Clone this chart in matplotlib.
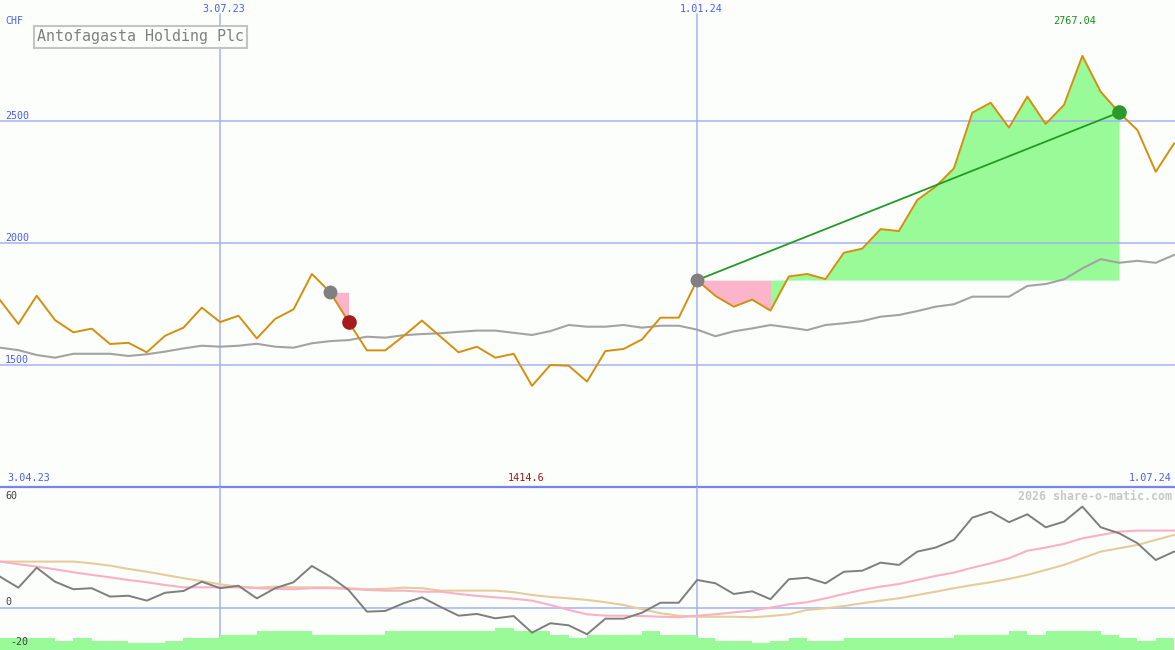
import numpy as np
import matplotlib.pyplot as plt

# weekly closes in CHF, one point per week (3.04.23 .. 1.07.24)
price = [1766, 1668, 1784, 1684, 1634, 1649, 1586, 1591, 1552, 1620,
         1653, 1735, 1676, 1702, 1609, 1689, 1728, 1873, 1798, 1677,
         1560, 1560, 1619, 1682, 1617, 1552, 1575, 1530, 1546, 1414.6,
         1500, 1497, 1432, 1557, 1566, 1605, 1694, 1694, 1848, 1783,
         1739, 1768, 1723, 1863, 1873, 1852, 1960, 1977, 2057, 2049,
         2176, 2231, 2306, 2534, 2575, 2473, 2600, 2488, 2566, 2767.04,
         2620, 2535, 2463, 2292, 2408]

# slow moving average (grey)
avg = [1571, 1561, 1541, 1530, 1546, 1546, 1546, 1537, 1544, 1555,
       1568, 1579, 1575, 1579, 1587, 1575, 1571, 1589, 1598, 1602,
       1616, 1612, 1622, 1627, 1630, 1636, 1641, 1641, 1632, 1623,
       1639, 1664, 1657, 1657, 1664, 1653, 1661, 1661, 1645, 1618,
       1638, 1650, 1664, 1654, 1643, 1664, 1671, 1680, 1698, 1705,
       1721, 1739, 1749, 1780, 1780, 1780, 1824, 1832, 1851, 1896,
       1934, 1919, 1927, 1919, 1951]

# lower panel: momentum and its two averages
mom = [17.9, 11.6, 23.0, 15.0, 10.7, 11.3, 6.5, 7.0, 4.2, 8.7,
       9.7, 15.0, 11.3, 12.7, 5.5, 11.3, 14.7, 24.0, 17.9, 10.3,
       -2.1, -1.7, 2.7, 6.1, 0.7, -4.4, -3.4, -5.9, -4.6, -14.1,
       -8.7, -9.9, -15.0, -6.1, -6.1, -2.7, 3.0, 3.0, 16.0, 14.1,
       8.0, 9.5, 5.0, 16.4, 17.3, 14.1, 20.7, 21.3, 25.9, 24.6,
       32.2, 34.5, 38.9, 51.6, 55.0, 49.0, 53.5, 46.1, 49.3, 57.9,
       46.1, 42.7, 37.0, 27.4, 32.2]

mom_fast = [26.5, 25.0, 23.6, 22.1, 20.4, 18.9, 17.5, 16.0, 14.7, 13.1,
            11.8, 11.8, 11.8, 11.8, 11.3, 10.9, 10.7, 11.3, 11.3, 10.9,
            10.3, 9.9, 9.9, 9.3, 9.3, 8.0, 6.9, 6.1, 5.3, 4.2,
            1.7, -1.1, -3.6, -4.4, -4.4, -4.6, -5.0, -5.3, -4.4, -3.6,
            -2.5, -1.5, 0.2, 2.1, 3.3, 5.5, 8.0, 10.3, 12.2, 13.7,
            16.0, 18.3, 20.2, 23.0, 25.5, 28.4, 32.7, 34.5, 36.6, 39.8,
            41.7, 43.6, 44.2, 44.2, 44.2]

mom_slow = [26.5, 26.5, 26.5, 26.5, 26.5, 25.5, 24.2, 22.3, 20.7, 18.9,
            17.0, 15.4, 13.5, 12.2, 11.6, 12.2, 11.8, 11.8, 11.8, 11.3,
            10.7, 10.9, 11.6, 11.3, 9.9, 9.9, 9.9, 9.9, 9.0, 7.4,
            6.3, 5.5, 4.6, 3.3, 1.7, -0.7, -3.0, -4.4, -5.0, -5.0,
            -5.0, -5.3, -4.6, -3.6, -1.1, -0.2, 1.1, 2.7, 4.2, 5.5,
            7.4, 9.3, 11.3, 13.1, 14.7, 16.6, 18.9, 21.7, 24.6, 28.4,
            32.2, 34.1, 36.0, 38.9, 41.7]

# volume bars, one per week interval
volume = [11.7, 11.7, 11.7, 9, 11.7, 9, 9, 6.7, 6.7, 9,
          11.7, 11.7, 15, 15, 19, 19, 19, 15, 15, 15,
          15, 19, 19, 19, 19, 19, 19, 22, 19, 19,
          15, 12.3, 15, 15, 15, 19, 15, 15, 12.3, 9,
          9, 6.7, 9, 12.3, 9, 9, 12.3, 12.3, 12.3, 12.3,
          12.3, 12.3, 15, 15, 15, 19, 15, 19, 19, 19,
          15, 12.3, 9, 12.3]

# trades: (entry week, exit week)
trades = [(18, 19), (38, 61)]

date_idx = [12, 38]
date_labels = ['3.07.23', '1.01.24']
start_label, end_label = '3.04.23', '1.07.24'
price_ticks = [1500, 2000, 2500]
osc_ticks = [60, 0, -20]
title = 'Antofagasta Holding Plc'

bg = '#fbfefb'
grid_c = '#a3b3f3'
lab_c = '#4d5ef5'
green_fill = '#98fb98'
pink_fill = '#fbb4c9'
mono = 'DejaVu Sans Mono'

x = np.arange(len(price))
p = np.array(price, dtype=float)

fig = plt.figure(figsize=(11.75, 6.5), dpi=100, facecolor=bg)
ax1 = fig.add_axes([0, 163 / 650, 1, 487 / 650])
ax2 = fig.add_axes([0, 0, 1, 163 / 650])

for ax in (ax1, ax2):
    ax.set_facecolor(bg)
    ax.set_xlim(0, len(price) - 0.95)
    ax.set_xticks([])
    ax.set_yticks([])
    for s in ax.spines.values():
        s.set_visible(False)

# ---- upper panel ----
ax1.set_ylim(1000, 2996)
for i in date_idx:
    ax1.axvline(i, ymax=1 - 14 / 487, color=grid_c, lw=1.1, zorder=2)
for v in price_ticks:
    ax1.axhline(v, color=grid_c, lw=1.1, zorder=2)
    ax1.annotate(str(v), xy=(0, v), xycoords=('axes fraction', 'data'),
                 xytext=(5, 2), textcoords='offset pixels', va='baseline',
                 fontsize=7.2, family=mono, color=lab_c, zorder=6)
ax1.spines['bottom'].set_visible(True)
ax1.spines['bottom'].set_color('#7585ea')
ax1.spines['bottom'].set_linewidth(1.6)

# trade shading: each segment takes the colour of its end point,
# runs of the same colour are filled in one go
for a, b in trades:
    entry = p[a]
    seg_win = [p[k + 1] > entry for k in range(a, b)]
    start = a
    for k in range(a, b):
        last = (k == b - 1) or (seg_win[k + 1 - a] != seg_win[k - a])
        if last:
            c = green_fill if seg_win[k - a] else pink_fill
            ax1.fill_between(x[start:k + 2], p[start:k + 2], entry,
                             color=c, lw=0, zorder=1)
            start = k + 1

ax1.plot(x, avg, color='#a3a3a3', lw=1.5, zorder=3)
ax1.plot(x, p, color='#d58f0c', lw=1.4, zorder=4)

for a, b in trades:
    win = p[b] > p[a]
    if win:
        ax1.plot([a, b], [p[a], p[b]], color='#239b23', lw=1.3, zorder=5)
    ax1.plot(a, p[a], 'o', ms=9, color='#808080', zorder=6)
    ax1.plot(b, p[b], 'o', ms=9.5, color='#2a9a2a' if win else '#a51a1a', zorder=6)

for i, lab in zip(date_idx, date_labels):
    ax1.annotate(lab, xy=(i, 1), xycoords=('data', 'axes fraction'),
                 xytext=(4, -9), textcoords='offset pixels', ha='center', va='center',
                 fontsize=7.3, family=mono, color=lab_c)

ax1.annotate('CHF', xy=(0, 1), xycoords='axes fraction', xytext=(5, -21),
             textcoords='offset pixels', va='center', fontsize=7.2, family=mono, color=lab_c)
ax1.annotate(start_label, xy=(0, 0), xycoords='axes fraction', xytext=(7, 9),
             textcoords='offset pixels', va='center', fontsize=7.3, family=mono, color=lab_c)
ax1.annotate(end_label, xy=(1, 0), xycoords='axes fraction', xytext=(-3, 9),
             textcoords='offset pixels', ha='right', va='center', fontsize=7.3,
             family=mono, color=lab_c)

imin, imax = int(np.argmin(p)), int(np.argmax(p))
ax1.annotate(f'{p[imin]:g}', xy=(imin, 0), xycoords=('data', 'axes fraction'),
             xytext=(-6, 9), textcoords='offset pixels', ha='center', va='center',
             fontsize=7.3, family=mono, color='#a01818')
ax1.annotate(f'{p[imax]:.2f}', xy=(imax, 1), xycoords=('data', 'axes fraction'),
             xytext=(-8, -21), textcoords='offset pixels', ha='center', va='center',
             fontsize=7.3, family=mono, color='#1a901a')

fig.text(37 / 1175, 1 - 37 / 650, title, fontsize=10.8, family=mono, color='#808080',
         va='center', ha='left',
         bbox=dict(boxstyle='square,pad=0.22', fc=bg, ec='#c4c4c4', lw=1.5))

# ---- lower panel ----
ax2.set_ylim(-24, 69.1)
ax2.axhline(0, color=grid_c, lw=1.1, zorder=2)

# volume in its own axis, underneath the oscillator lines
axv = ax2.twinx()
axv.set_ylim(0, 163)
axv.set_axis_off()
for i in date_idx:
    axv.axvline(i, color=grid_c, lw=1.1, zorder=0.5)
axv.bar(x[:-1], volume, width=1, align='edge', color=green_fill, lw=0, zorder=1)
ax2.set_zorder(axv.get_zorder() + 1)
ax2.patch.set_visible(False)
axv.patch.set_visible(True)
axv.patch.set_facecolor(bg)

ax2.plot(x, mom_slow, color='#e6cc9c', lw=1.5, zorder=3)
ax2.plot(x, mom_fast, color='#fbb0c6', lw=1.5, zorder=3)
ax2.plot(x, mom, color='#7e7e7e', lw=1.4, zorder=4)

for v, dx, dy in zip(osc_ticks, [5, 5, 10], [7, 6, 1]):
    ax2.annotate(str(v), xy=(0, v), xycoords=('axes fraction', 'data'),
                 xytext=(dx, dy), textcoords='offset pixels', va='center',
                 fontsize=7.2, family=mono, color='#404040', zorder=6)

ax2.annotate('2026 share-o-matic.com', xy=(1, 1), xycoords='axes fraction',
             xytext=(-3, -9), textcoords='offset pixels', ha='right', va='center',
             fontsize=8.4, family=mono, fontweight='bold', color='#c8c8c8')

fig.savefig('out.png', dpi=100, facecolor=bg)
